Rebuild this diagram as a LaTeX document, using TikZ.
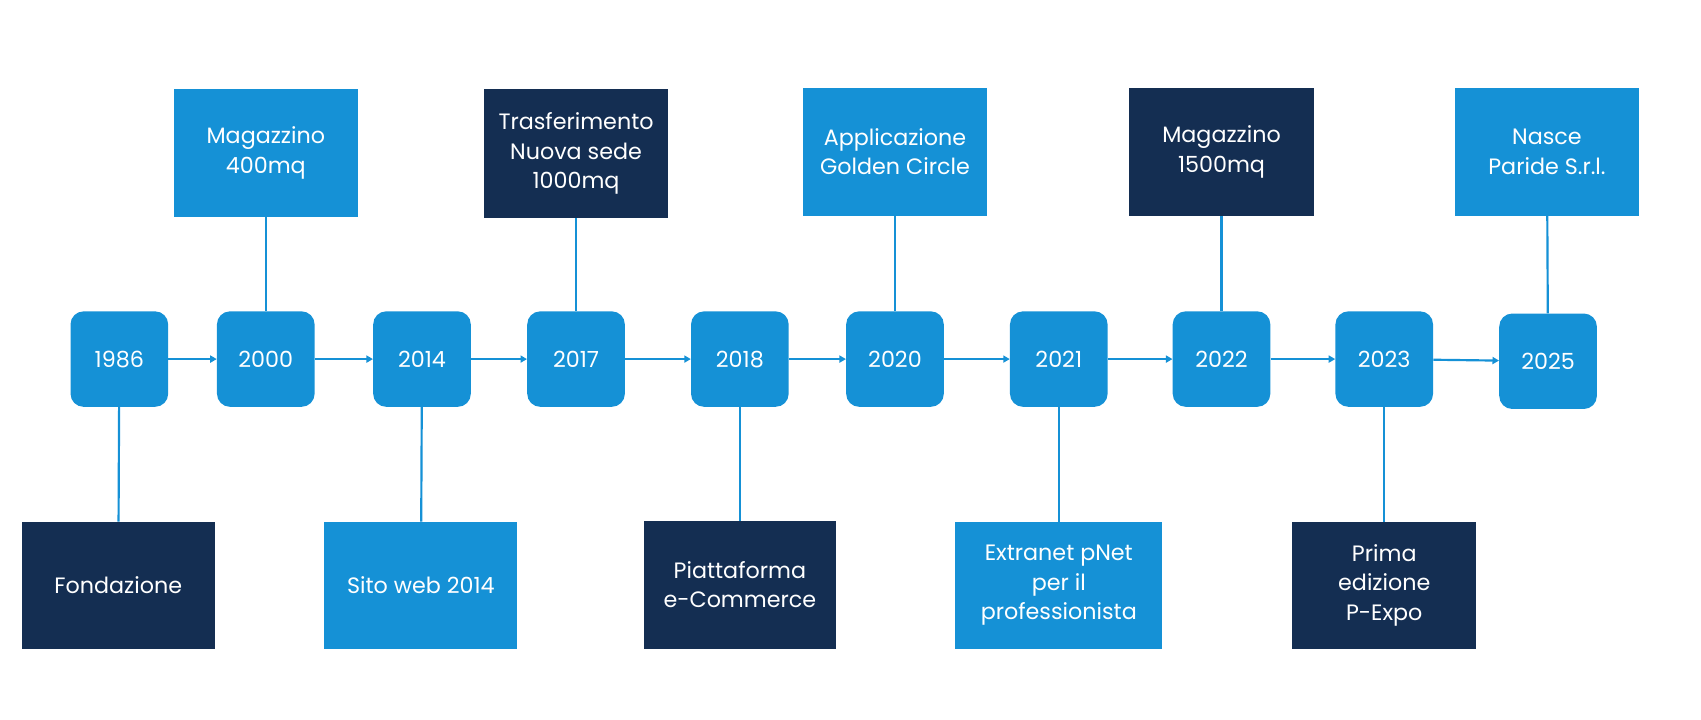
\documentclass[tikz,border=0pt]{standalone}
\usepackage{fontspec}
\setmainfont{Poppins}
\usetikzlibrary{positioning,arrows.meta}
\definecolor{azzurro}{HTML}{1591D6}
\definecolor{notte}{HTML}{142E52}
\tikzset{
  anno/.style={fill=azzurro, rounded corners=12pt, minimum width=90pt, minimum height=88pt, text=white, font=\fontsize{20.5}{24}\selectfont},
  evento/.style={minimum width=170pt, minimum height=118pt, text=white, align=center, font=\fontsize{20.5}{27}\selectfont},
  chiaro/.style={evento, fill=azzurro},
  scuro/.style={evento, fill=notte},
  filo/.style={azzurro, line width=2pt},
  freccia/.style={filo, -{Triangle[length=6pt,width=6.5pt]}}
}
\begin{document}
\begin{tikzpicture}[x=1pt, y=-1pt]
\useasboundingbox (0,0) rectangle (1568,663.7);
% Anni
\foreach \x/\a in {110/1986,245/2000,389/2014,531/2017,682/2018,825/2020,976/2021,1126/2022,1276/2023}
  \node[anno] (y\a) at (\x,331) {\a};
\node[anno] (y2025) at (1427,333) {2025};
% Frecce tra gli anni
\foreach \a/\b in {1986/2000,2000/2014,2014/2017,2017/2018,2018/2020,2020/2021,2021/2022,2022/2023,2023/2025}
  \draw[freccia] (y\a) -- (y\b);
% Eventi sopra
\node[chiaro] (e2000) at (245,141) {Magazzino\\400mq};
\node[scuro] (e2017) at (531,141.5) {Trasferimento\\Nuova sede\\1000mq};
\node[chiaro] (e2020) at (825,140) {Applicazione\\Golden Circle};
\node[scuro] (e2022) at (1126,140) {Magazzino\\1500mq};
\node[chiaro] (e2025) at (1426,140) {Nasce\\Paride S.r.l.};
% Eventi sotto
\node[scuro, minimum width=178pt, minimum height=117pt] (e1986) at (109,539.5) {Fondazione};
\node[chiaro, minimum width=178pt, minimum height=117pt] (e2014) at (388,539.5) {Sito web 2014};
\node[scuro, minimum width=177pt] (e2018) at (682,539) {Piattaforma\\e-Commerce};
\node[chiaro, minimum width=191pt, minimum height=117pt] (e2021) at (976,539.5) {Extranet pNet\\per il\\professionista};
\node[scuro, minimum height=117pt] (e2023) at (1276,539.5) {Prima\\edizione\\P-Expo};
% Collegamenti verticali
\foreach \a in {1986,2000,2014,2017,2018,2020,2021,2022,2023,2025}
  \draw[filo] (y\a) -- (e\a);
\end{tikzpicture}
\end{document}
